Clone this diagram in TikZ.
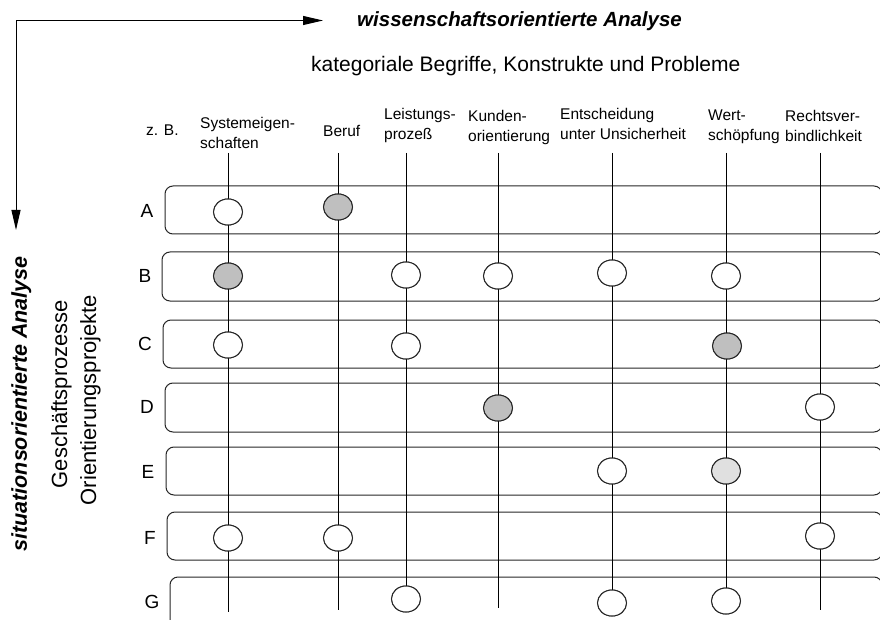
\documentclass[tikz,border=0pt]{standalone}
\usepackage{fontspec}
\setmainfont{Liberation Sans}
\usetikzlibrary{arrows.meta,shapes.geometric}
\tikzset{
  rowbox/.style={draw=black!85,line width=1pt,rounded corners=8pt},
  col/.style={draw=black,line width=1pt},
  dot/.style={ellipse,draw=black!85,line width=1pt,fill=white,minimum width=29pt,minimum height=26pt,inner sep=0pt},
  dotg/.style={dot,fill=black!25},
  dotl/.style={dot,fill=black!12},
  collabel/.style={anchor=north west,inner sep=0pt,align=left,font=\fontsize{15.5}{20}\selectfont},
  rowlabel/.style={inner sep=0pt,font=\fontsize{19}{23}\selectfont},
  bigtext/.style={inner sep=0pt,font=\fontsize{21}{24}\selectfont},
  axis/.style={line width=1pt,-{Triangle[length=20pt,width=9pt]}}
}
\begin{document}
\begin{tikzpicture}[x=1pt,y=-1pt]
\useasboundingbox (0,0) rectangle (880,620);
\clip (0,0) rectangle (880,620);
% axes
\coordinate (corner) at (16,20.5);
\coordinate (htip) at (323,20.5);
\coordinate (vtip) at (16,230);
\draw[axis] (corner) -- (htip);
\draw[axis] (corner) -- (vtip);
\node[bigtext,anchor=base west,font=\fontsize{20.5}{24}\selectfont\bfseries\itshape] (wiss) at (357,27) {wissenschaftsorientierte Analyse};
\node[bigtext,anchor=base west] (kat) at (311,72) {kategoriale Begriffe, Konstrukte und Probleme};
\node[bigtext,anchor=base,rotate=90,font=\fontsize{21.5}{24}\selectfont\bfseries\itshape] (sit) at (27,404) {situationsorientierte Analyse};
\node[bigtext,anchor=base,rotate=90,font=\fontsize{22}{24}\selectfont] (gp) at (67,394) {Geschäftsprozesse};
\node[bigtext,anchor=base,rotate=90,font=\fontsize{22}{24}\selectfont] (op) at (96,400) {Orientierungsprojekte};
% column labels
\node[collabel] (zb) at (146,125) {z. B.};
\node[collabel] (l1) at (200,117) {Systemeigen-\\schaften};
\node[collabel] (l2) at (323,125) {Beruf};
\node[collabel] (l3) at (384,108) {Leistungs-\\prozeß};
\node[collabel] (l4) at (468,110) {Kunden-\\orientierung};
\node[collabel] (l5) at (560,108) {Entscheidung\\unter Unsicherheit};
\node[collabel] (l6) at (708,110) {Wert-\\schöpfung};
\node[collabel] (l7) at (785,110) {Rechtsver-\\bindlichkeit};
% row boxes
\draw[rowbox] (165,186) rectangle (882,234);
\draw[rowbox] (162,252) rectangle (882,301);
\draw[rowbox] (163,320) rectangle (882,368);
\draw[rowbox] (165,383) rectangle (882,432);
\draw[rowbox] (166,447) rectangle (882,495);
\draw[rowbox] (167,512) rectangle (882,560);
\draw[rowbox] (170,577) rectangle (882,640);
% row labels
\node[rowlabel] (rA) at (147,211) {A};
\node[rowlabel] (rB) at (145,276) {B};
\node[rowlabel] (rC) at (145,344) {C};
\node[rowlabel] (rD) at (147,407) {D};
\node[rowlabel] (rE) at (148,472) {E};
\node[rowlabel] (rF) at (150,538) {F};
\node[rowlabel] (rG) at (152,602) {G};
% column tops and bottoms
\coordinate (t1) at (228,153); \coordinate (b1) at (228,612);
\coordinate (t2) at (338,153); \coordinate (b2) at (338,610);
\coordinate (t3) at (406,153);
\coordinate (t4) at (498,153); \coordinate (b4) at (498,608);
\coordinate (t5) at (612,153);
\coordinate (t6) at (726,153);
\coordinate (t7) at (820,153); \coordinate (b7) at (820,610);
% circles (defined first, drawn again on top of the lines)
\path
  node[dot]  (A1) at (228,212) {}
  node[dotg] (A2) at (338,207) {}
  node[dotg] (B1) at (228,276) {}
  node[dot]  (B3) at (406,275) {}
  node[dot]  (B4) at (498,276) {}
  node[dot]  (B5) at (612,273) {}
  node[dot]  (B6) at (726,276) {}
  node[dot]  (C1) at (228,345) {}
  node[dot]  (C3) at (406,346) {}
  node[dotg] (C6) at (727,346) {}
  node[dotg] (D4) at (498,408) {}
  node[dot]  (D7) at (820,407) {}
  node[dot]  (E5) at (612,471) {}
  node[dotl] (E6) at (726,471) {}
  node[dot]  (F1) at (228,538) {}
  node[dot]  (F2) at (338,538) {}
  node[dot]  (F7) at (820,536) {}
  node[dot]  (G3) at (406,599) {}
  node[dot]  (G5) at (612,603) {}
  node[dot]  (G6) at (726,601) {};
% column lines
\draw[col] (t1) -- (b1);
\draw[col] (t2) -- (b2);
\draw[col] (t3) -- (G3.north);
\draw[col] (t4) -- (b4);
\draw[col] (t5) -- (G5.north);
\draw[col] (t6) -- (G6.north);
\draw[col] (t7) -- (b7);
% circles on top
\foreach \n/\s in {A1/dot,A2/dotg,B1/dotg,B3/dot,B4/dot,B5/dot,B6/dot,C1/dot,C3/dot,C6/dotg,D4/dotg,D7/dot,E5/dot,E6/dotl,F1/dot,F2/dot,F7/dot,G3/dot,G5/dot,G6/dot}
  \node[\s] at (\n) {};
\end{tikzpicture}
\end{document}
